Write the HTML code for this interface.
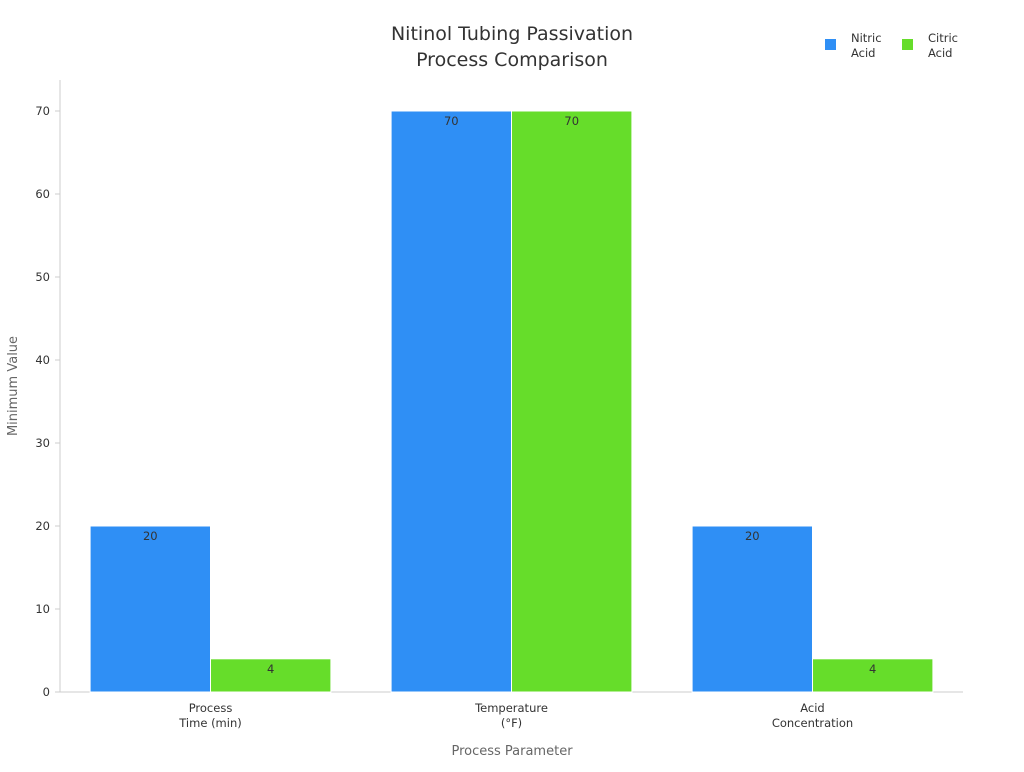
<!DOCTYPE html>
<html><head><meta charset="utf-8"><style>
body{margin:0;background:#fff;font-family:"DejaVu Sans","Liberation Sans",sans-serif;}
</style></head><body>
<svg id="chart" width="1024" height="768" xmlns="http://www.w3.org/2000/svg">
<text x="512" y="40" text-anchor="middle" font-size="19" fill="#333"><tspan x="512">Nitinol Tubing Passivation</tspan><tspan x="512" dy="26">Process Comparison</tspan></text>
<g>
<rect x="825" y="39" width="11" height="11" fill="#2f8ff5"/>
<text x="851" y="42" font-size="11.5" fill="#333"><tspan x="851">Nitric</tspan><tspan x="851" dy="15">Acid</tspan></text>
<rect x="902" y="39" width="11" height="11" fill="#66dd2a"/>
<text x="928" y="42" font-size="11.5" fill="#333"><tspan x="928">Citric</tspan><tspan x="928" dy="15">Acid</tspan></text>
</g>
<line x1="60" y1="80" x2="60" y2="692" stroke="#ccc"/>
<line x1="60" y1="692" x2="963" y2="692" stroke="#ccc"/>
<g id="yticks"></g><g id="bars"></g><g id="xlabels"></g>
<text x="17" y="386" transform="rotate(-90 17 386)" text-anchor="middle" font-size="13" fill="#666">Minimum Value</text>
<text x="512" y="755" text-anchor="middle" font-size="13" fill="#666">Process Parameter</text>
</svg>
<script>
const categories=[["Process","Time (min)"],["Temperature","(°F)"],["Acid","Concentration"]];
const nitric=[20,70,20];
const citric=[4,70,4];
const yTicks=[0,10,20,30,40,50,60,70];
const NS="http://www.w3.org/2000/svg";
const x0=60,x1=963,yBase=692,yTop=111,yMax=70;
const y=v=>yBase-(v/yMax)*(yBase-yTop);
const band=(x1-x0)/categories.length;
const cx=i=>x0+band*(i+0.5);
const bw=band*0.4;
function mk(tag,attrs,parent){const e=document.createElementNS(NS,tag);for(const k in attrs)e.setAttribute(k,attrs[k]);parent.appendChild(e);return e;}
const yt=document.getElementById('yticks');
yTicks.forEach(t=>{
 const l=mk('line',{x1:55,x2:60,y1:y(t),y2:y(t),stroke:'#ccc'},yt);
 
 
 const tx=mk('text',{x:50,y:y(t)+4,'text-anchor':'end','font-size':11.5,fill:'#333'},yt);
 tx.textContent=t;
 
 
});
const bg=document.getElementById('bars');
[[nitric,'#2f8ff5',-1,'nitric'],[citric,'#66dd2a',0,'citric']].forEach(([vals,col,off,nm])=>{
 vals.forEach((v,i)=>{
  const bx=cx(i)+off*bw;
  const r=mk('rect',{x:bx,y:y(v),width:bw,height:yBase-y(v),fill:col,stroke:'#fff','stroke-width':1},bg);
  
  
  const t=mk('text',{x:bx+bw/2,y:y(v)+14,'text-anchor':'middle','font-size':11.5,fill:'#333'},bg);
  t.textContent=v;
  
  
 });
});
const xl=document.getElementById('xlabels');
categories.forEach((c,i)=>{
 const t=mk('text',{x:cx(i),y:712,'text-anchor':'middle','font-size':11.5,fill:'#333'},xl);
 
 
 c.forEach((s,j)=>{const ts=mk('tspan',{x:cx(i),dy:j?15:0},t);ts.textContent=s;});
});
</script>
</body></html>
